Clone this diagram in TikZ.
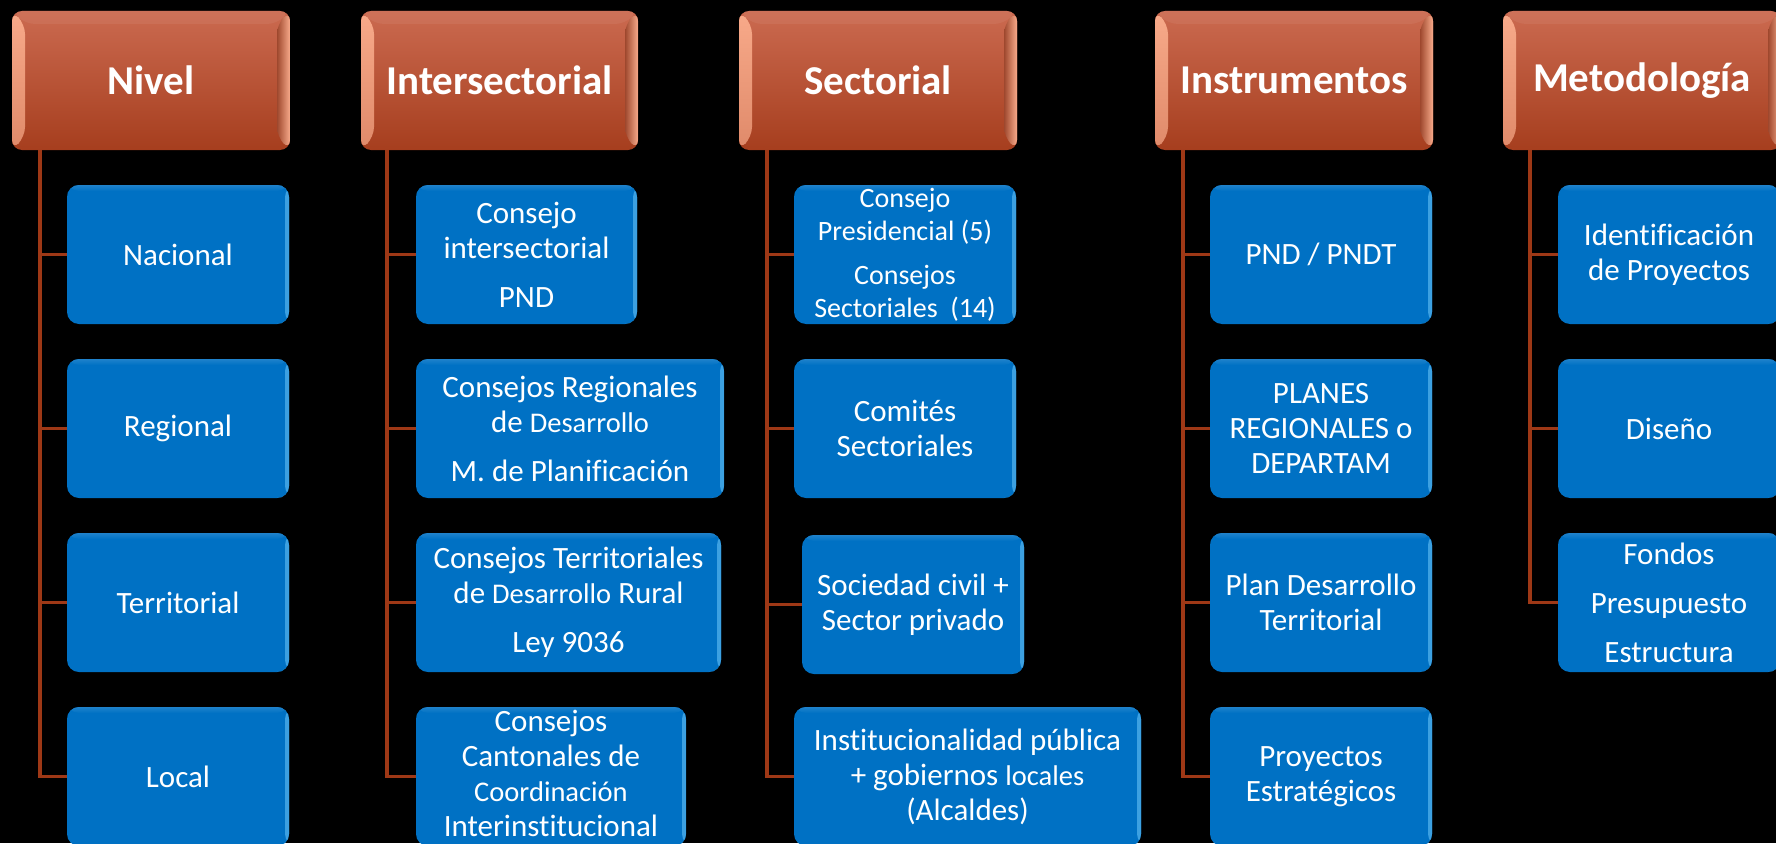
\documentclass[tikz,border=0pt]{standalone}
\usepackage{fontspec}
\setmainfont[Ligatures={NoCommon,NoRare}]{Carlito}
\usetikzlibrary{calc}
\definecolor{hdtop}{RGB}{203,106,80}
\definecolor{hdbot}{RGB}{166,62,30}
\definecolor{hdlite}{RGB}{248,170,138}
\definecolor{hddark}{RGB}{158,72,46}
\definecolor{kblue}{RGB}{0,113,196}
\definecolor{klite}{RGB}{110,200,250}
\definecolor{conncol}{RGB}{158,56,22}
\newcommand{\smw}[1]{{\fontsize{28.5}{35}\selectfont #1}}
\tikzset{
  hdr/.style={rectangle, rounded corners=10pt, inner sep=0pt, minimum height=139pt,
    top color=hdtop, bottom color=hdbot, text=white,
    font=\fontsize{41}{48}\selectfont\bfseries,
    path picture={
      \shade[top color=hdlite, bottom color=hdlite!70!hdbot]
        (path picture bounding box.south west) -- (path picture bounding box.north west)
        -- ([xshift=13pt,yshift=-13pt]path picture bounding box.north west)
        -- ([xshift=13pt,yshift=13pt]path picture bounding box.south west) -- cycle;
      \shade[left color=hddark, right color=hdlite]
        (path picture bounding box.south east) -- (path picture bounding box.north east)
        -- ([xshift=-13pt,yshift=-13pt]path picture bounding box.north east)
        -- ([xshift=-13pt,yshift=13pt]path picture bounding box.south east) -- cycle;
      \fill[hdtop!85!white, opacity=0.35]
        (path picture bounding box.north west) -- (path picture bounding box.north east)
        -- ([xshift=-13pt,yshift=-13pt]path picture bounding box.north east)
        -- ([xshift=13pt,yshift=-13pt]path picture bounding box.north west) -- cycle;
    }},
  kid/.style={rectangle, rounded corners=12pt, inner sep=0pt, minimum height=139pt,
    fill=kblue,
    path picture={
      \shade[left color=kblue, right color=kblue!45!klite]
        ([xshift=-4pt]path picture bounding box.north east) rectangle (path picture bounding box.south east);
      \shade[top color=kblue!88!white, bottom color=kblue]
        (path picture bounding box.north west) rectangle ([yshift=-6pt]path picture bounding box.north east);
    }},
  kt/.style={text=white, align=center, inner sep=0pt, font=\fontsize{31}{35}\selectfont},
  ktsmall/.style={text=white, align=center, inner sep=0pt, font=\fontsize{28}{33}\selectfont},
  cn/.style={draw=conncol, line width=3.5pt, line join=miter}
}
\begin{document}
\begin{tikzpicture}[x=1pt,y=-1pt]
\fill[black] (0,0) rectangle (1776,843);
\useasboundingbox (0,0) rectangle (1776,843);

% headers
\node[hdr, minimum width=278pt] (h1) at (151,80.5) {Nivel};
\node[hdr, minimum width=277pt] (h2) at (499.5,80.5) {Intersectorial};
\node[hdr, minimum width=278pt] (h3) at (878,80.5) {Sectorial};
\node[hdr, minimum width=278pt] (h4) at (1294,80.5) {Instrumentos};
\node[hdr, minimum width=278pt] (h5) at (1642,80.5) {Metodología};

% column 1
\node[kid, minimum width=222pt] (a1) at (178,254.5) {};
\node[kid, minimum width=222pt] (a2) at (178,428.5) {};
\node[kid, minimum width=222pt] (a3) at (178,602.5) {};
\node[kid, minimum width=222pt] (a4) at (178,776.5) {};
\node[kt] (ta1) at (a1) {Nacional};
\node[kt] (ta2) at (a2) {Regional};
\node[kt] (ta3) at (a3) {Territorial};
\node[kt] (ta4) at (a4) {Local};

% column 2
\node[kid, minimum width=221pt] (b1) at (526.5,254.5) {};
\node[kid, minimum width=308pt] (b2) at (570,428.5) {};
\node[kid, minimum width=305pt] (b3) at (568.5,602.5) {};
\node[kid, minimum width=270pt] (b4) at (551,776.5) {};
\node[kt] (tb1) at (b1) {Consejo\\intersectorial\\[14pt]PND};
\node[kt] (tb2) at (b2) {Consejos Regionales\\de \smw{Desarrollo}\\[14pt]M. de Planificación};
\node[kt] (tb3) at (b3) {Consejos Territoriales\\de \smw{Desarrollo} Rural\\[14pt]Ley 9036};
\node[kt] (tb4) at ([yshift=3pt]b4.center) {Consejos\\Cantonales de\\\smw{Coordinación}\\Interinstitucional};

% column 3
\node[kid, minimum width=222pt] (c1) at (905,254.5) {};
\node[kid, minimum width=222pt] (c2) at (905,428.5) {};
\node[kid, minimum width=222pt] (c3) at (913,604.5) {};
\node[kid, minimum width=347pt] (c4) at (967.5,776.5) {};
\node[ktsmall] (tc1) at (c1) {Consejo\\Presidencial (5)\\[11pt]Consejos\\Sectoriales~~(14)};
\node[kt] (tc2) at (c2) {Comités\\Sectoriales};
\node[kt] (tc3) at (c3) {Sociedad civil +\\Sector privado};
\node[kt] (tc4) at (c4) {Institucionalidad pública\\+ gobiernos \smw{locales}\\(Alcaldes)};

% column 4
\node[kid, minimum width=222pt] (d1) at (1321,254.5) {};
\node[kid, minimum width=222pt] (d2) at (1321,428.5) {};
\node[kid, minimum width=222pt] (d3) at (1321,602.5) {};
\node[kid, minimum width=222pt] (d4) at (1321,776.5) {};
\node[kt] (td1) at (d1) {PND / PNDT};
\node[kt] (td2) at (d2) {PLANES\\REGIONALES o\\DEPARTAM};
\node[kt] (td3) at (d3) {Plan Desarrollo\\Territorial};
\node[kt] (td4) at (d4) {Proyectos\\Estratégicos};

% column 5
\node[kid, minimum width=222pt] (e1) at (1669,254.5) {};
\node[kid, minimum width=222pt] (e2) at (1669,428.5) {};
\node[kid, minimum width=222pt] (e3) at (1669,602.5) {};
\node[kt] (te1) at (e1) {Identificación\\de Proyectos};
\node[kt] (te2) at (e2) {Diseño};
\node[kt] (te3) at (e3) {Fondos\\[14pt]Presupuesto\\[14pt]Estructura};

% connector spines
\coordinate (v1) at (40,0);
\coordinate (v2) at (387,0);
\coordinate (v3) at (767,0);
\coordinate (v4) at (1183,0);
\coordinate (v5) at (1530,0);

\draw[cn] (h1.south -| v1) -- (a4.west -| v1) -- (a4.west);
\draw[cn] (a1.west -| v1) -- (a1.west);
\draw[cn] (a2.west -| v1) -- (a2.west);
\draw[cn] (a3.west -| v1) -- (a3.west);

\draw[cn] (h2.south -| v2) -- (b4.west -| v2) -- (b4.west);
\draw[cn] (b1.west -| v2) -- (b1.west);
\draw[cn] (b2.west -| v2) -- (b2.west);
\draw[cn] (b3.west -| v2) -- (b3.west);

\draw[cn] (h3.south -| v3) -- (c4.west -| v3) -- (c4.west);
\draw[cn] (c1.west -| v3) -- (c1.west);
\draw[cn] (c2.west -| v3) -- (c2.west);
\draw[cn] (c3.west -| v3) -- (c3.west);

\draw[cn] (h4.south -| v4) -- (d4.west -| v4) -- (d4.west);
\draw[cn] (d1.west -| v4) -- (d1.west);
\draw[cn] (d2.west -| v4) -- (d2.west);
\draw[cn] (d3.west -| v4) -- (d3.west);

\draw[cn] (h5.south -| v5) -- (e3.west -| v5) -- (e3.west);
\draw[cn] (e1.west -| v5) -- (e1.west);
\draw[cn] (e2.west -| v5) -- (e2.west);
\end{tikzpicture}
\end{document}
